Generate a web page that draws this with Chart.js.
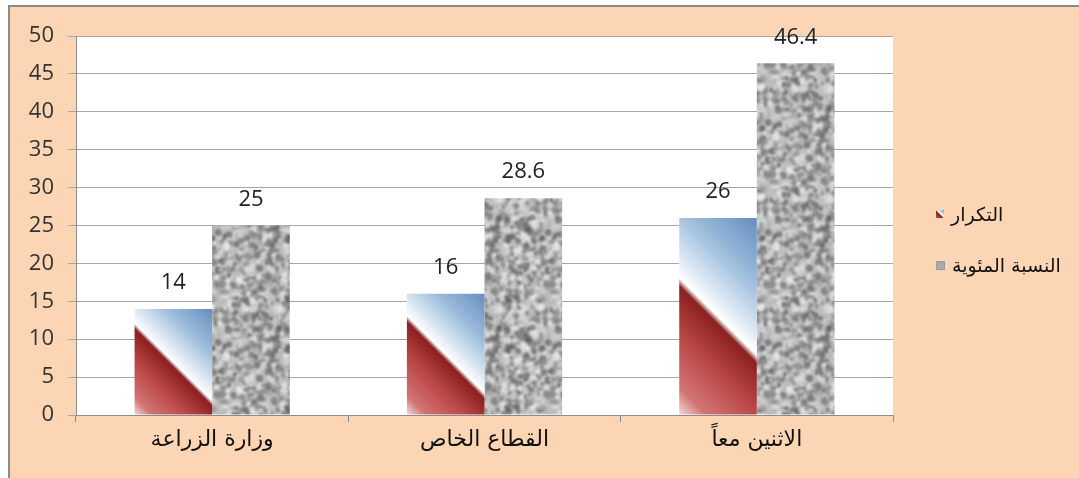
<!DOCTYPE html>
<html>
<head>
<meta charset="utf-8">
<script src="https://cdn.jsdelivr.net/npm/chart.js@4"></script>
<style>
  html, body { margin: 0; padding: 0; background: #ffffff; }
  #wrap { position: relative; width: 1079px; height: 478px; overflow: hidden; }
  #bg { position: absolute; left: 8px; top: 5px; right: 0; bottom: 0;
        background: #fcd5b5; border-top: 2px solid #8a8a8a; border-left: 2px solid #8a8a8a; }
  #chart { position: absolute; left: 0; top: 0; }
  .leg { position: absolute; left: 936px; display: flex; flex-direction: row; align-items: center;
         font-family: "DejaVu Sans", sans-serif; font-size: 19px; color: #111; white-space: nowrap; }
  .leg span.t { direction: rtl; }
  .sw { width: 8px; height: 8px; margin-right: 7px; }
</style>
</head>
<body>
<div id="wrap">
  <div id="bg"></div>
  <canvas id="chart" width="1079" height="478"></canvas>
  <div class="leg" style="top:203px;"><span class="sw" style="background: linear-gradient(45deg, #c0504d 0%, #8b2020 45%, #ffffff 52%, #6d98c4 100%);"></span><span class="t">التكرار</span></div>
  <div class="leg" style="top:254px;"><span class="sw" style="background: #a9a9a9; border: 1px solid #999; width:7px; height:7px;"></span><span class="t">النسبة المئوية</span></div>
</div>
<script>
// data
const categories = ['وزارة الزراعة', 'القطاع الخاص', 'الاثنين معاً'];
const freqValues = [14, 16, 26];
const percentValues = [25, 28.6, 46.4];
const seriesNames = ['التكرار', 'النسبة المئوية'];
const yTicks = [0, 5, 10, 15, 20, 25, 30, 35, 40, 45, 50];

const CAT_PCT = 0.57;
const TILE = 110;

// gray granite-like texture for the second series (seamless tile)
function makeTexture() {
    const c = document.createElement('canvas');
    c.width = TILE; c.height = TILE;
    const g = c.getContext('2d');
    g.fillStyle = '#bcbcbc';
    g.fillRect(0, 0, TILE, TILE);
    let seed = 98765;
    function rnd() { seed = (seed * 1103515245 + 12345) % 2147483648; return seed / 2147483648; }
    for (let i = 0; i < 900; i++) {
        const dark = rnd() < 0.5;
        const v = dark ? Math.floor(80 + rnd() * 60) : Math.floor(205 + rnd() * 45);
        const x = rnd() * TILE, y = rnd() * TILE, r = 1.2 + rnd() * 2.6;
        g.fillStyle = 'rgba(' + v + ',' + v + ',' + v + ',0.6)';
        for (let dx = -1; dx <= 1; dx++) {
            for (let dy = -1; dy <= 1; dy++) {
                g.beginPath();
                g.arc(x + dx * TILE, y + dy * TILE, r, 0, Math.PI * 2);
                g.fill();
            }
        }
    }
    // tile 3x3 first, then blur the whole thing, then cut the middle
    const big = document.createElement('canvas');
    big.width = TILE * 3; big.height = TILE * 3;
    const gb = big.getContext('2d');
    for (let i = 0; i < 3; i++) for (let j = 0; j < 3; j++) gb.drawImage(c, i * TILE, j * TILE);
    const blurred = document.createElement('canvas');
    blurred.width = TILE * 3; blurred.height = TILE * 3;
    const gbl = blurred.getContext('2d');
    gbl.filter = 'blur(1.1px)';
    gbl.drawImage(big, 0, 0);
    const out = document.createElement('canvas');
    out.width = TILE; out.height = TILE;
    out.getContext('2d').drawImage(blurred, TILE, TILE, TILE, TILE, 0, 0, TILE, TILE);
    return out;
}
const texture = makeTexture();

function freqFill(ctx) {
    if (ctx.type !== 'data') return '#c0504d';
    const chart = ctx.chart;
    const xs = chart.scales.x, ys = chart.scales.y;
    if (!xs || !ys || !chart.chartArea) return '#c0504d';
    const catW = xs.width / categories.length;
    const barW = catW * CAT_PCT / 2;
    const center = xs.getPixelForValue(ctx.dataIndex);
    const left = center - barW;
    const bottom = ys.getPixelForValue(0);
    const top = ys.getPixelForValue(freqValues[ctx.dataIndex]);
    const L = (barW + (bottom - top)) / 2;
    const grad = chart.ctx.createLinearGradient(left, bottom, left + L, bottom - L);
    grad.addColorStop(0, '#f3dcdc');
    grad.addColorStop(0.1, '#d27474');
    grad.addColorStop(0.3, '#bb4646');
    grad.addColorStop(0.47, '#8a2020');
    grad.addColorStop(0.5, '#ffffff');
    grad.addColorStop(0.56, '#e4eef7');
    grad.addColorStop(0.75, '#9fbddc');
    grad.addColorStop(1, '#648ebe');
    return grad;
}

function textureFill(ctx) {
    return ctx.chart.ctx.createPattern(texture, 'repeat');
}

const plotBg = {
    id: 'plotBg',
    beforeDraw(chart) {
        const a = chart.chartArea, c = chart.ctx;
        c.save();
        c.fillStyle = '#ffffff';
        c.fillRect(a.left, a.top, a.right - a.left, a.bottom - a.top);
        c.restore();
    }
};

const valueLabels = {
    id: 'valueLabels',
    afterDatasetsDraw(chart) {
        const c = chart.ctx;
        c.save();
        c.font = '22px "Open Sans", sans-serif';
        c.fillStyle = '#222';
        c.textAlign = 'center';
        c.textBaseline = 'middle';
        chart.data.datasets.forEach((ds, di) => {
            chart.getDatasetMeta(di).data.forEach((el, i) => {
                c.fillText(String(ds.data[i]), el.x, el.y - 26);
            });
        });
        c.restore();
    }
};

new Chart(document.getElementById('chart'), {
    type: 'bar',
    data: {
        labels: categories,
        datasets: [{
            label: seriesNames[0],
            data: freqValues,
            backgroundColor: freqFill,
            borderWidth: 0,
            categoryPercentage: CAT_PCT,
            barPercentage: 1
        }, {
            label: seriesNames[1],
            data: percentValues,
            backgroundColor: textureFill,
            borderWidth: 0,
            categoryPercentage: CAT_PCT,
            barPercentage: 1
        }]
    },
    options: {
        responsive: false,
        animation: false,
        layout: { padding: { left: 0, right: 186, top: 36, bottom: 0 } },
        plugins: {
            legend: { display: false },
            tooltip: { enabled: false }
        },
        scales: {
            x: {
                grid: { offset: true, drawOnChartArea: false, drawTicks: true, tickLength: 7, color: '#8c8c8c' },
                border: { color: '#8c8c8c' },
                ticks: {
                    color: '#111',
                    padding: 5,
                    font: { family: '"DejaVu Sans", sans-serif', size: 22 }
                },
                afterFit(s) { s.height = 63; }
            },
            y: {
                min: 0,
                max: 50,
                afterBuildTicks(s) { s.ticks = yTicks.map(v => ({ value: v })); },
                grid: { color: '#a6a6a6', tickLength: 8 },
                border: { color: '#8c8c8c' },
                ticks: {
                    color: '#333',
                    padding: 14,
                    font: { family: '"Open Sans", sans-serif', size: 22 }
                },
                afterFit(s) { s.width = 76; }
            }
        }
    },
    plugins: [plotBg, valueLabels]
});
</script>
</body>
</html>
